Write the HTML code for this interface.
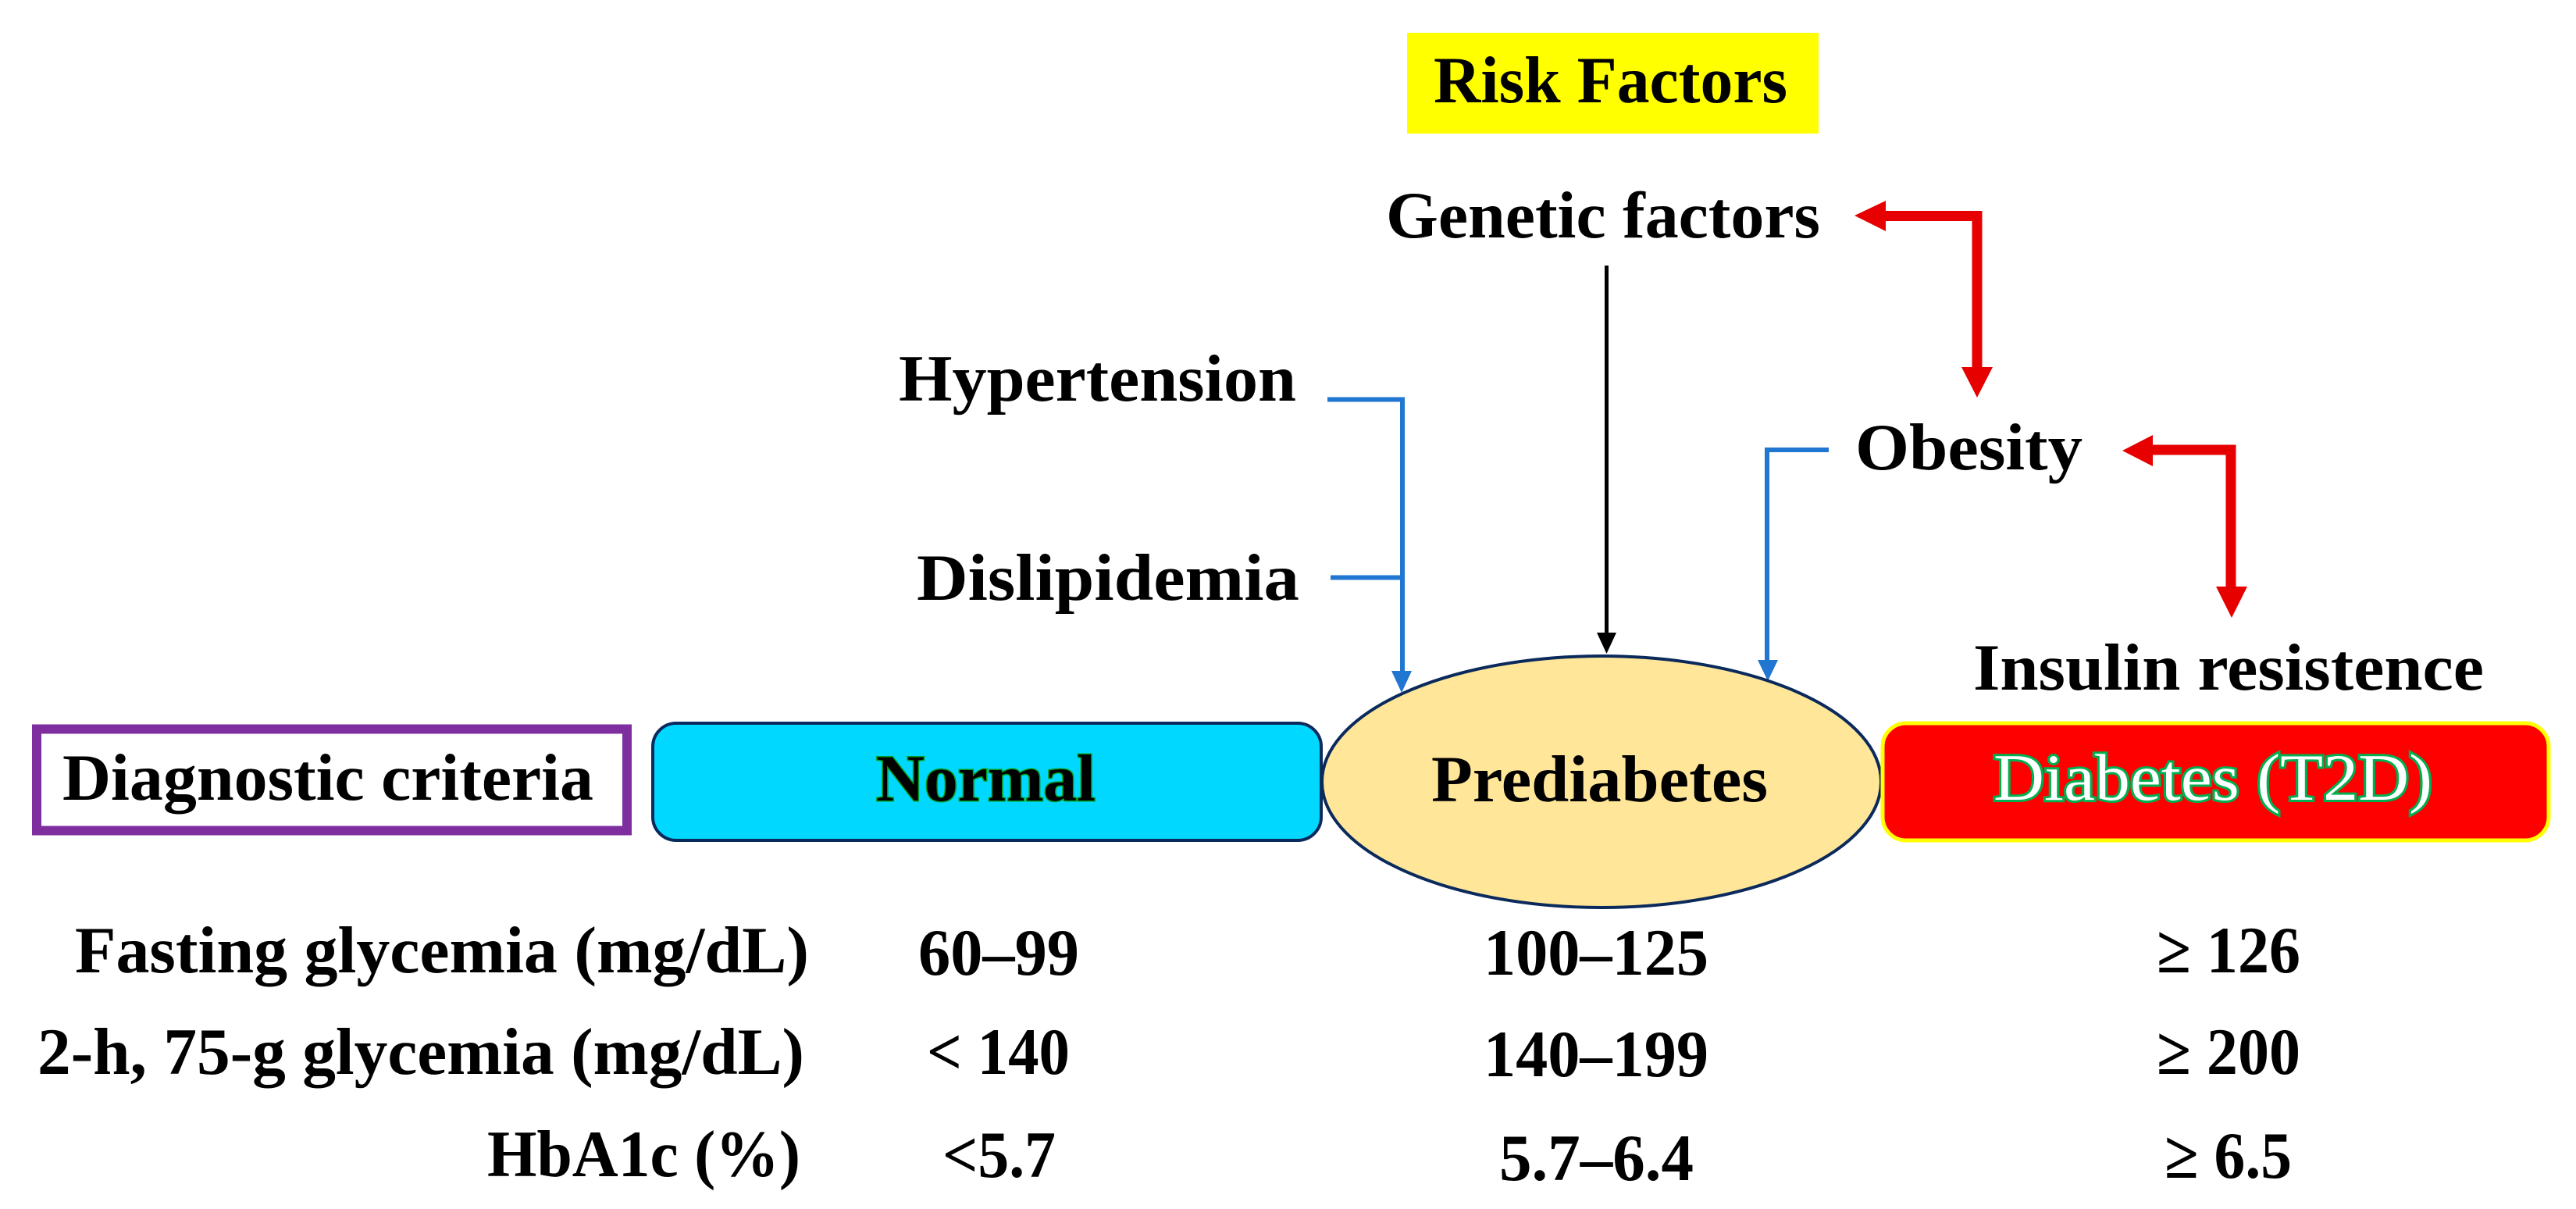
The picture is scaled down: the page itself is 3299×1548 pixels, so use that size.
<!DOCTYPE html>
<html lang="en">
<head>
<meta charset="utf-8">
<title>Diagnostic criteria and risk factors for prediabetes and diabetes</title>
<style>
html,body{margin:0;padding:0;background:#fff;width:3299px;height:1548px;overflow:hidden}
svg{display:block}
text{font-family:"Liberation Serif",serif;font-weight:bold;font-size:85px;fill:#000}
</style>
</head>
<body>
<svg xmlns="http://www.w3.org/2000/svg" width="3299" height="1548" viewBox="0 0 3299 1548">
  <rect x="0" y="0" width="3299" height="1548" fill="#ffffff"/>

  <rect x="1802" y="42" width="527" height="129" fill="#ffff00"/>
  <text x="1836" y="131" textLength="453" lengthAdjust="spacingAndGlyphs">Risk Factors</text>

  <text x="1775" y="304" textLength="556" lengthAdjust="spacingAndGlyphs">Genetic factors</text>
  <text x="1151" y="513" textLength="509" lengthAdjust="spacingAndGlyphs">Hypertension</text>
  <text x="1174" y="768" textLength="490" lengthAdjust="spacingAndGlyphs">Dislipidemia</text>
  <text x="2376" y="601" textLength="291" lengthAdjust="spacingAndGlyphs">Obesity</text>
  <text x="2527" y="883" textLength="654" lengthAdjust="spacingAndGlyphs">Insulin resistence</text>

  <g>
    <polyline points="2410,276.500 2532,276.500 2532,475" fill="none" stroke="#e60000" stroke-width="13"/>
    <polygon points="2375,276 2415,257 2415,296" fill="#e60000"/>
    <polygon points="2532,509 2512,470 2552,470" fill="#e60000"/>
  </g>
  <g>
    <polyline points="2752,576 2857,576 2857,756" fill="none" stroke="#e60000" stroke-width="13"/>
    <polygon points="2718,577 2757,557 2757,597" fill="#e60000"/>
    <polygon points="2858,791 2838,751 2878,751" fill="#e60000"/>
  </g>

  <g>
    <line x1="2057.500" y1="340" x2="2057.500" y2="815" stroke="#000000" stroke-width="5"/>
    <polygon points="2057.500,837 2045,810 2070,810" fill="#000000"/>
  </g>
  <g>
    <polyline points="1700,511.500 1796,511.500 1796,865" fill="none" stroke="#2176d2" stroke-width="6"/>
    <line x1="1704" y1="739.500" x2="1796" y2="739.500" stroke="#2176d2" stroke-width="6"/>
    <polygon points="1795,887 1782,859 1808,859" fill="#2176d2"/>
  </g>
  <g>
    <polyline points="2342,576 2263,576 2263,850" fill="none" stroke="#2176d2" stroke-width="6"/>
    <polygon points="2264,872 2251,845 2277,845" fill="#2176d2"/>
  </g>

  <rect x="47" y="933.500" width="756" height="130" fill="#ffffff" stroke="#7f2ea0" stroke-width="12"/>
  <text x="80" y="1024" textLength="680" lengthAdjust="spacingAndGlyphs">Diagnostic criteria</text>

  <rect x="836" y="926" width="856" height="150" rx="30" ry="30" fill="#00d8ff" stroke="#0b2a5c" stroke-width="4"/>
  <text x="1122" y="1025" textLength="281" lengthAdjust="spacingAndGlyphs" stroke="#00a020" stroke-width="3" paint-order="stroke">Normal</text>

  <ellipse cx="2051" cy="1001" rx="358" ry="161" fill="#ffe699" stroke="#0b2a5c" stroke-width="4"/>
  <text x="1833" y="1026" textLength="431" lengthAdjust="spacingAndGlyphs">Prediabetes</text>

  <rect x="2411" y="926" width="853" height="150" rx="30" ry="30" fill="#ff0000" stroke="#ffff00" stroke-width="5"/>
  <text x="2553" y="1024" textLength="562" lengthAdjust="spacingAndGlyphs" style="fill:#ffffff;font-weight:normal" stroke="#00b050" stroke-width="6" paint-order="stroke">Diabetes (T2D)</text>

  <text x="96" y="1245" textLength="940" lengthAdjust="spacingAndGlyphs">Fasting glycemia (mg/dL)</text>
  <text x="48" y="1375" textLength="982" lengthAdjust="spacingAndGlyphs">2-h, 75-g glycemia (mg/dL)</text>
  <text x="624" y="1506" textLength="401" lengthAdjust="spacingAndGlyphs">HbA1c (%)</text>

  <text x="1176" y="1248" textLength="206" lengthAdjust="spacingAndGlyphs">60–99</text>
  <text x="1187" y="1375" textLength="183" lengthAdjust="spacingAndGlyphs">&lt; 140</text>
  <text x="1207" y="1507" textLength="145" lengthAdjust="spacingAndGlyphs">&lt;5.7</text>

  <text x="1900" y="1248" textLength="288" lengthAdjust="spacingAndGlyphs">100–125</text>
  <text x="1900" y="1378" textLength="288" lengthAdjust="spacingAndGlyphs">140–199</text>
  <text x="1920" y="1511" textLength="249" lengthAdjust="spacingAndGlyphs">5.7–6.4</text>

  <text x="2762" y="1245" textLength="184" lengthAdjust="spacingAndGlyphs">≥ 126</text>
  <text x="2762" y="1375" textLength="184" lengthAdjust="spacingAndGlyphs">≥ 200</text>
  <text x="2772" y="1508" textLength="163" lengthAdjust="spacingAndGlyphs">≥ 6.5</text>
</svg>
</body>
</html>
